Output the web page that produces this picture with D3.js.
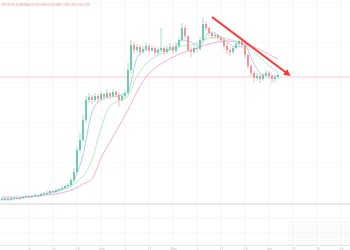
<!DOCTYPE html>
<html>
<head>
<meta charset="utf-8">
<script src="https://cdn.jsdelivr.net/npm/d3@7"></script>
<style>
  body { margin: 0; background: #fff; }
  svg { display: block; }
</style>
</head>
<body>
<div id="chart"></div>
<script>
// candle data (price units)
var opens  = [3,4,4,3,4,5,4,5,6,7,6,7,8,7,9,10,10,12,11,13,14,15,17,18,23,31,53,63,83,103,106,103,107,104,109,106,110,107,111,108,103,107,110,133,158,153,156,151,154,157,153,155,150,153,155,151,154,156,152,157,163,175,167,153,151,155,154,163,179,175,170,167,168,165,163,157,153,151,155,159,162,158,148,137,130,125,127,124,128,130,127,124,126];
var closes = [4,4,3,4,5,4,5,6,7,6,7,8,7,9,10,10,12,11,13,14,15,17,18,23,31,53,63,83,103,106,103,107,104,109,106,110,107,111,108,103,107,110,133,158,153,156,151,154,157,153,155,150,153,155,151,154,156,152,157,163,175,167,153,151,155,154,163,179,175,170,167,168,165,163,157,153,151,155,159,162,158,148,137,130,125,127,124,128,130,127,124,126,128];
var highs  = [5,5,5,5,6,6,6,7,8,8,8,9,9,10,11,12,13,13,14,15,17,18,20,25,35,56,70,88,107,110,108,110,109,112,110,114,111,114,113,110,110,113,140,163,161,159,158,157,160,159,158,157,156,175,157,157,160,158,161,166,180,178,168,156,158,157,166,186,182,176,172,171,169,167,166,160,156,157,161,164,163,160,150,139,132,130,129,130,133,132,129,128,130];
var lows   = [1,2,2,2,3,3,3,4,5,5,5,6,6,6,8,8,9,10,10,12,13,14,15,16,21,29,50,61,80,100,99,101,100,102,103,104,104,105,106,96,101,105,108,130,150,150,148,149,152,150,151,147,148,151,148,149,152,149,150,155,161,164,151,146,149,150,152,161,172,167,164,164,162,160,154,149,147,149,153,157,155,145,134,127,121,122,120,122,125,124,120,121,124];

// moving averages, sampled every third candle (last point = last candle)
var maIndex = [0,3,6,9,12,15,18,21,24,27,30,33,36,39,42,45,48,51,54,57,60,63,66,69,72,75,78,81,84,87,90,92];
var maFast  = [4,4,5,6,7,9,12,15,23,48,91,103,106,107,111,145,153,153,153,154,163,161,157,171,168,161,156,157,139,128,127,127];
var maMid   = [4,5,5,6,7,9,11,14,19,27,43,75,97,102,107,127,139,146,151,154,157,158,161,165,166,164,162,158,151,143,135,131];
var maSlow  = [6,6,6,6.5,7,8,9,11,14,19,24,45,61,77,93,111,126,135,141,146,150,153,156,159,161,162,161,159,156,152,147,144];

var lastPrice = 126;
var arrowFrom = [70, 186];   // [candle index, price]
var arrowTo   = [95.3, 129];

var tickIndex  = [9,17,25,33,41,49,57,65,73,81,89,97,105,113];
var tickLabels = ["8","16","24","Feb","9","17","Mar","9","17","25","Apr","10","18","26"];

var title = "BTCPLN, 1D, BITBAY  O160.50K H165.04K L158.12K C162.37K";

var width = 350, height = 250;
var paneBottom = 203;

var svg = d3.select("#chart").append("svg")
  .attr("width", width)
  .attr("height", height);

var x = d3.scaleLinear().domain([0, 116]).range([2, 350]);
var y = d3.scaleLinear().domain([0, 203]).range([paneBottom, 0]);

// grid
svg.append("g").selectAll("line")
  .data(tickIndex)
  .enter().append("line")
  .attr("x1", d => x(d)).attr("x2", d => x(d))
  .attr("y1", 0).attr("y2", 245)
  .attr("stroke", "#f5f5f5").attr("stroke-width", 1);

svg.append("g").selectAll("line")
  .data([40, 80, 120, 160, 200])
  .enter().append("line")
  .attr("x1", 0).attr("x2", width)
  .attr("y1", d => y(d)).attr("y2", d => y(d))
  .attr("stroke", "#f7f7f7");

[218, 233].forEach(function(gy) {
  svg.append("line").attr("x1", 0).attr("x2", width)
    .attr("y1", gy).attr("y2", gy).attr("stroke", "#f5f5f5");
});

// dotted patch bottom right
var defs = svg.append("defs");
defs.append("pattern").attr("id", "dots")
  .attr("width", 2).attr("height", 2).attr("patternUnits", "userSpaceOnUse")
  .append("rect").attr("width", 1).attr("height", 1).attr("fill", "#f1f1f1");
svg.append("rect").attr("x", 287).attr("y", 222).attr("width", 63).attr("height", 23)
  .attr("fill", "url(#dots)");

// pane divider and time axis line
svg.append("rect").attr("x", 0).attr("y", paneBottom).attr("width", width).attr("height", 2)
  .attr("fill", "#e8e8e8");
svg.append("line").attr("x1", 0).attr("x2", width).attr("y1", 245.5).attr("y2", 245.5)
  .attr("stroke", "#e6e6e6");

// last price line
svg.append("line")
  .attr("x1", 0).attr("x2", width)
  .attr("y1", y(lastPrice)).attr("y2", y(lastPrice))
  .attr("stroke", "#f8d0d0").attr("stroke-width", 1);

// moving averages
var line = d3.line()
  .x(function(d) { return x(d[0]); })
  .y(function(d) { return y(d[1]); })
  .curve(d3.curveMonotoneX);

function drawMA(vals, color) {
  svg.append("path")
    .datum(maIndex.map(function(i, k) { return [i, vals[k]]; }))
    .attr("fill", "none")
    .attr("stroke", color)
    .attr("stroke-width", 1)
    .attr("d", line);
}
drawMA(maSlow, "#eeb0e0");
drawMA(maMid, "#b6ecc8");
drawMA(maFast, "#b4cbf4");

// candles
var candles = svg.append("g").selectAll("g")
  .data(closes.map(function(c, i) {
    return { i: i, o: opens[i], c: c, h: highs[i], l: lows[i] };
  }))
  .enter().append("g");

candles.append("line")
  .attr("x1", d => x(d.i)).attr("x2", d => x(d.i))
  .attr("y1", d => y(d.h)).attr("y2", d => y(d.l))
  .attr("stroke", d => d.c >= d.o ? "#a3dfcc" : "#f7b8b8")
  .attr("stroke-width", 1);

candles.append("rect")
  .attr("x", d => x(d.i) - 1)
  .attr("width", 2)
  .attr("y", d => y(Math.max(d.o, d.c)))
  .attr("height", d => Math.max(1, Math.abs(y(d.o) - y(d.c))))
  .attr("fill", d => d.c >= d.o ? "#6ccdad" : "#f29598");

// trend arrow
defs.append("marker").attr("id", "head")
  .attr("viewBox", "0 0 10 10").attr("refX", 5).attr("refY", 5)
  .attr("markerWidth", 3.4).attr("markerHeight", 3.4)
  .attr("orient", "auto")
  .append("path").attr("d", "M0,0L10,5L0,10z").attr("fill", "#ff3333");

svg.append("line")
  .attr("x1", x(arrowFrom[0])).attr("y1", y(arrowFrom[1]))
  .attr("x2", x(arrowTo[0])).attr("y2", y(arrowTo[1]))
  .attr("stroke", "#ff3333").attr("stroke-width", 2)
  .attr("marker-end", "url(#head)");

// title
svg.append("text")
  .attr("x", 2).attr("y", 5.5)
  .attr("font-family", "Roboto, sans-serif")
  .attr("font-size", 4)
  .attr("textLength", 88)
  .attr("fill", "#f3a6a6")
  .text(title);

// time axis
var axis = svg.append("g")
  .attr("transform", "translate(0,245)")
  .call(d3.axisBottom(x).tickValues(tickIndex).tickSize(0)
    .tickFormat(function(d, i) { return tickLabels[i]; }));
axis.select(".domain").remove();
axis.selectAll("text")
  .attr("dy", 0).attr("y", 5)
  .attr("font-family", "Roboto, sans-serif")
  .attr("font-size", 3.5)
  .attr("fill", "#c4c4c4");
</script>
</body>
</html>
